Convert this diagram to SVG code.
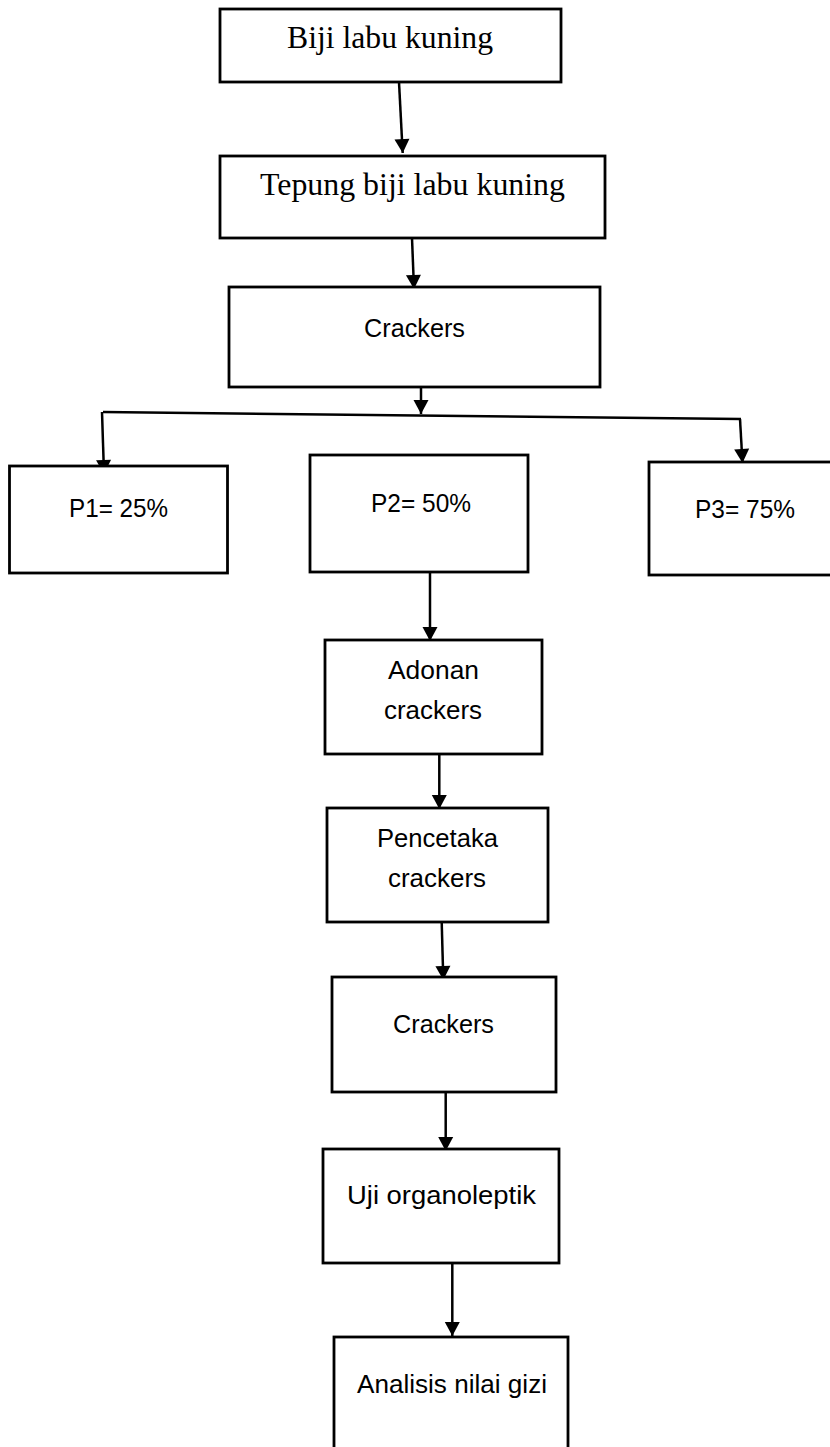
<svg xmlns="http://www.w3.org/2000/svg" width="830" height="1447" viewBox="0 0 830 1447">
<style>
.box{fill:#fff;stroke:#000;stroke-width:2.8}
.serif{font-family:"Liberation Serif","Times New Roman",serif;font-size:32px;fill:#000}
.sans{font-family:"Liberation Sans",Arial,sans-serif;font-size:26px;fill:#000}
.conn{stroke:#000;stroke-width:2.5;fill:none}
</style>
<defs>
<marker id="arr" markerUnits="userSpaceOnUse" markerWidth="16" markerHeight="16" viewBox="0 0 14 16" refX="14" refY="8" orient="auto">
<path d="M0,0.5 L14,8 L0,15.5 Z" fill="#000"/>
</marker>
</defs>
<rect width="830" height="1447" fill="#fff"/>
<g id="connectors">
<line class="conn" x1="399" y1="82" x2="402.7" y2="153" marker-end="url(#arr)"/>
<line class="conn" x1="412" y1="238" x2="414" y2="289" marker-end="url(#arr)"/>
<line class="conn" x1="421" y1="386" x2="421" y2="414" marker-end="url(#arr)"/>
<line class="conn" x1="103" y1="412" x2="741" y2="419" stroke-width="2.8"/>
<line class="conn" x1="102" y1="412" x2="104" y2="474" marker-end="url(#arr)"/>
<line class="conn" x1="740" y1="419" x2="742.5" y2="463" marker-end="url(#arr)"/>
<line class="conn" x1="430" y1="572" x2="430" y2="641" marker-end="url(#arr)"/>
<line class="conn" x1="439.3" y1="754" x2="439.3" y2="809" marker-end="url(#arr)"/>
<line class="conn" x1="441.7" y1="922" x2="443.3" y2="980" marker-end="url(#arr)"/>
<line class="conn" x1="445.7" y1="1092" x2="445.7" y2="1151" marker-end="url(#arr)"/>
<line class="conn" x1="452.3" y1="1263" x2="452.3" y2="1336" marker-end="url(#arr)"/>
</g>
<g id="n1"><rect class="box" x="220" y="9" width="341" height="73"/><text class="serif" x="287" y="48" textLength="206" lengthAdjust="spacingAndGlyphs">Biji labu kuning</text></g>
<g id="n2"><rect class="box" x="220" y="156" width="385" height="82"/><text class="serif" x="260" y="195" textLength="305" lengthAdjust="spacingAndGlyphs">Tepung biji labu kuning</text></g>
<g id="n3"><rect class="box" x="229" y="287" width="371" height="100"/><text class="sans" x="364" y="337" textLength="101" lengthAdjust="spacingAndGlyphs">Crackers</text></g>
<g id="p1"><rect class="box" x="9.5" y="466" width="218" height="107"/><text class="sans" x="69" y="517" textLength="99" lengthAdjust="spacingAndGlyphs">P1= 25%</text></g>
<g id="p2"><rect class="box" x="310" y="455" width="218" height="117"/><text class="sans" x="371" y="512" textLength="100" lengthAdjust="spacingAndGlyphs">P2= 50%</text></g>
<g id="p3"><rect class="box" x="649" y="462" width="200" height="113"/><text class="sans" x="695" y="518" textLength="100" lengthAdjust="spacingAndGlyphs">P3= 75%</text></g>
<g id="n4"><rect class="box" x="325" y="640" width="217" height="114"/><text class="sans" x="388" y="679" textLength="91" lengthAdjust="spacingAndGlyphs">Adonan</text><text class="sans" x="384" y="719" textLength="98" lengthAdjust="spacingAndGlyphs">crackers</text></g>
<g id="n5"><rect class="box" x="327" y="808" width="221" height="114"/><text class="sans" x="377" y="847" textLength="121" lengthAdjust="spacingAndGlyphs">Pencetaka</text><text class="sans" x="388" y="887" textLength="98" lengthAdjust="spacingAndGlyphs">crackers</text></g>
<g id="n6"><rect class="box" x="332" y="977" width="224" height="115"/><text class="sans" x="393" y="1033" textLength="101" lengthAdjust="spacingAndGlyphs">Crackers</text></g>
<g id="n7"><rect class="box" x="323" y="1149" width="236" height="114"/><text class="sans" x="347" y="1204" textLength="189" lengthAdjust="spacingAndGlyphs">Uji organoleptik</text></g>
<g id="n8"><rect class="box" x="334" y="1337" width="234" height="130"/><text class="sans" x="357" y="1393" textLength="190" lengthAdjust="spacingAndGlyphs">Analisis nilai gizi</text></g>
</svg>
